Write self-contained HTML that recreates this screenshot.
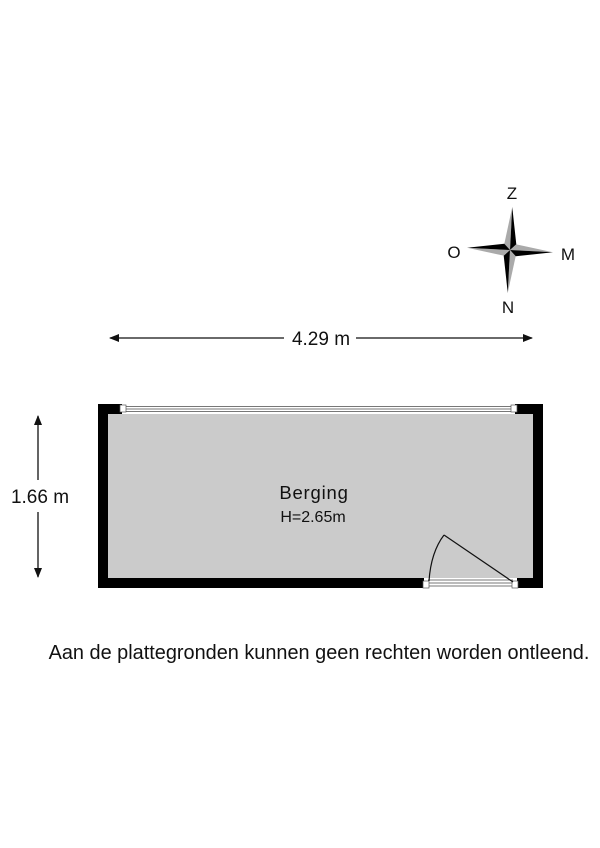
<!DOCTYPE html>
<html><head><style>
html,body{margin:0;padding:0;background:#fff;}
svg{display:block;}
text{font-family:"Liberation Sans",sans-serif;fill:#111;}
</style></head><body>
<svg width="600" height="848" viewBox="0 0 600 848" xmlns="http://www.w3.org/2000/svg">
<defs>
<marker id="ah" markerWidth="10" markerHeight="8" refX="9" refY="4" orient="auto" markerUnits="userSpaceOnUse">
<path d="M0,0 L10,4 L0,8 z" fill="#111"/>
</marker>
</defs>
<line x1="284" y1="338" x2="110" y2="338" stroke="#111" stroke-width="1.3" marker-end="url(#ah)"/>
<line x1="356" y1="338" x2="532" y2="338" stroke="#111" stroke-width="1.3" marker-end="url(#ah)"/>
<text x="321" y="345" font-size="19" text-anchor="middle">4.29 m</text>
<line x1="38" y1="480" x2="38" y2="416" stroke="#111" stroke-width="1.3" marker-end="url(#ah)"/>
<line x1="38" y1="512" x2="38" y2="577" stroke="#111" stroke-width="1.3" marker-end="url(#ah)"/>
<text x="40" y="503" font-size="19" text-anchor="middle">1.66 m</text>
<rect x="98" y="404" width="445" height="184" fill="#000"/>
<rect x="108" y="414" width="425" height="164" fill="#cbcbcb"/>
<rect x="122" y="404" width="393" height="10" fill="#fff"/>
<line x1="122" y1="406.5" x2="515" y2="406.5" stroke="#777" stroke-width="1"/>
<line x1="122" y1="409" x2="515" y2="409" stroke="#777" stroke-width="1"/>
<line x1="122" y1="411.5" x2="515" y2="411.5" stroke="#777" stroke-width="1"/>
<rect x="120" y="405" width="6" height="7" fill="#fff" stroke="#555" stroke-width="0.7"/>
<rect x="511" y="405" width="6" height="7" fill="#fff" stroke="#555" stroke-width="0.7"/>
<rect x="424" y="578" width="93" height="10" fill="#fff"/>
<line x1="428" y1="580" x2="513" y2="580" stroke="#777" stroke-width="1"/>
<line x1="428" y1="583" x2="513" y2="583" stroke="#777" stroke-width="1"/>
<line x1="428" y1="586" x2="513" y2="586" stroke="#777" stroke-width="1"/>
<rect x="423" y="581" width="6" height="7" fill="#fff" stroke="#555" stroke-width="0.7"/>
<rect x="512" y="581" width="6" height="7" fill="#fff" stroke="#555" stroke-width="0.7"/>
<line x1="513" y1="582" x2="444" y2="535" stroke="#111" stroke-width="1.2"/>
<path d="M429,581 Q431,552 444,535" fill="none" stroke="#111" stroke-width="1.2"/>
<text x="314" y="499" font-size="18.5" text-anchor="middle" letter-spacing="0.8">Berging</text>
<text x="313" y="522" font-size="16" text-anchor="middle">H=2.65m</text>
<g transform="translate(510,250) rotate(3)">
<path d="M0,-43 L-6,-6 L0,0 z" fill="#aaa"/><path d="M0,-43 L6,-6 L0,0 z" fill="#000"/>
<path d="M43,0 L6,-6 L0,0 z" fill="#aaa"/><path d="M43,0 L6,6 L0,0 z" fill="#000"/>
<path d="M0,43 L6,6 L0,0 z" fill="#aaa"/><path d="M0,43 L-6,6 L0,0 z" fill="#000"/>
<path d="M-43,0 L-6,6 L0,0 z" fill="#aaa"/><path d="M-43,0 L-6,-6 L0,0 z" fill="#000"/>
</g>
<text x="512" y="199" font-size="17" text-anchor="middle">Z</text>
<text x="508" y="313" font-size="17" text-anchor="middle">N</text>
<text x="454" y="258" font-size="17" text-anchor="middle">O</text>
<text x="568" y="260" font-size="17" text-anchor="middle">M</text>
<text x="319" y="659" font-size="19.9" text-anchor="middle">Aan de plattegronden kunnen geen rechten worden ontleend.</text>
</svg>
</body></html>
